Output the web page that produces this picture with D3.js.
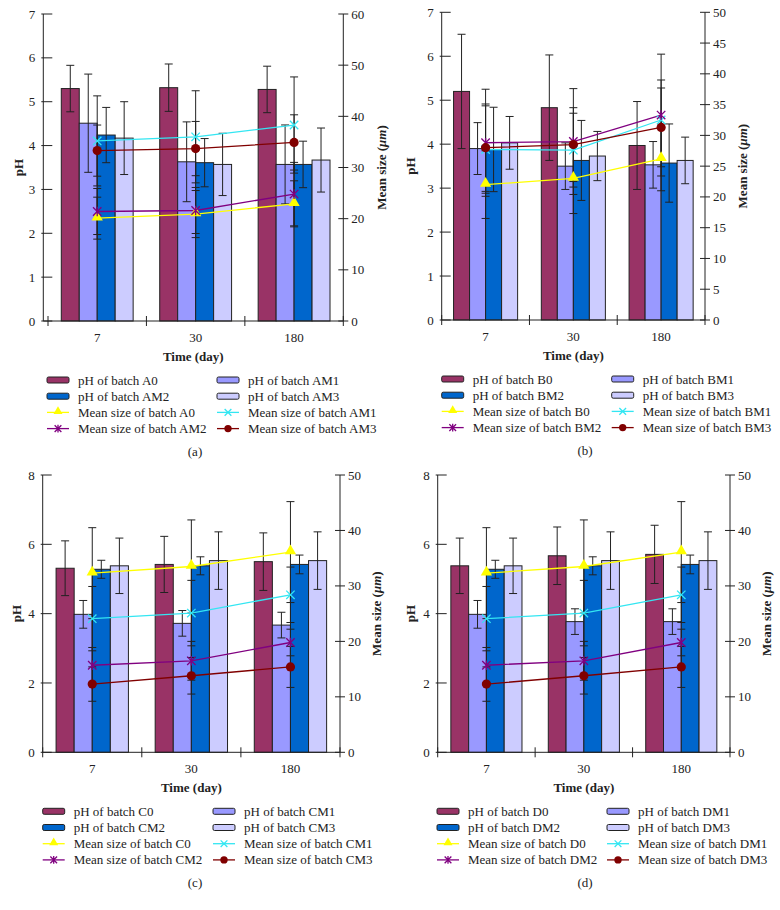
<!DOCTYPE html>
<html lang="en">
<head>
<meta charset="utf-8">
<title>pH and mean size</title>
<script src="https://cdn.jsdelivr.net/npm/d3@7"></script>
<style>
body { margin: 0; background: #fff; }
</style>
</head>
<body>
<div id="chart"></div>
<script>
// categories
var days = ["7", "30", "180"];
var barSuffix = ["0", "M1", "M2", "M3"];

// panel (a)
var phA = [[5.30, 5.32, 5.28], [4.51, 3.63, 3.57], [4.24, 3.61, 3.57], [4.17, 3.57, 3.67]];
var phErrA = [[0.53, 0.54, 0.53], [1.12, 0.91, 0.90], [0.63, 0.55, 0.53], [0.83, 0.71, 0.73]];
var sizeA = [[20.1, 20.9, 22.9], [35.2, 36.0, 38.3], [21.4, 21.6, 24.8], [33.3, 33.7, 34.9]];
var sizeErrA = [[4.1, 4.6, 4.5], [8.8, 9.0, 9.4], [4.5, 4.5, 6.2], [5.0, 5.3, 5.4]];

// panel (b)
var phB = [[5.20, 4.83, 3.97], [3.90, 3.50, 3.53], [3.88, 3.63, 3.57], [4.03, 3.73, 3.63]];
var phErrB = [[1.30, 1.20, 1.00], [0.59, 0.53, 0.53], [0.96, 0.91, 0.89], [0.60, 0.56, 0.53]];
var sizeB = [[22.0, 23.0, 26.2], [27.7, 27.6, 32.5], [28.8, 29.0, 33.3], [28.0, 28.5, 31.3]];
var sizeErrB = [[5.5, 5.7, 5.2], [7.1, 6.0, 6.5], [8.7, 8.6, 9.9], [7.1, 6.0, 6.4]];

// panel (c)
var phC = [[5.31, 5.42, 5.50], [3.98, 3.72, 3.67], [5.28, 5.38, 5.42], [5.38, 5.53, 5.53]];
var phErrC = [[0.79, 0.81, 0.83], [0.40, 0.37, 0.37], [0.26, 0.26, 0.27], [0.80, 0.83, 0.83]];
var sizeC = [[32.3, 33.5, 36.1], [24.1, 25.1, 28.4], [15.7, 16.5, 19.8], [12.3, 13.8, 15.4]];
var sizeErrC = [[8.2, 8.4, 9.1], [5.8, 5.9, 5.0], [3.2, 3.5, 2.4], [3.1, 3.3, 3.7]];

// panel (d)
var phD = [[5.38, 5.67, 5.71], [3.98, 3.77, 3.77], [5.28, 5.38, 5.42], [5.38, 5.53, 5.53]];
var phErrD = [[0.80, 0.83, 0.84], [0.40, 0.37, 0.37], [0.26, 0.26, 0.27], [0.80, 0.83, 0.83]];
var sizeD = [[32.3, 33.5, 36.1], [24.1, 25.1, 28.4], [15.7, 16.5, 19.8], [12.3, 13.8, 15.4]];
var sizeErrD = [[8.2, 8.4, 9.1], [5.8, 5.9, 5.0], [3.2, 3.5, 2.4], [3.1, 3.3, 3.7]];

var barColors = ["#993366", "#9999ff", "#0066cc", "#ccccff"];
var lineColors = ["#ffff00", "#33e6f2", "#800080", "#800000"];
var markerKinds = ["tri", "x", "star", "dot"];

var svg = d3.select("#chart").append("svg")
    .attr("width", 780)
    .attr("height", 910)
    .attr("font-family", "'Liberation Serif', 'Times New Roman', 'DejaVu Serif', serif")
    .style("font-family", "'Liberation Serif', 'Times New Roman', 'DejaVu Serif', serif");

function marker(g, kind, color, s) {
    if (kind == "tri") {
        g.append("path").attr("d", d3.symbol(d3.symbolTriangle, 55 * s * s)())
            .attr("fill", color).attr("transform", "translate(0,-1)");
    } else if (kind == "dot") {
        g.append("circle").attr("r", 4.6 * s).attr("fill", color);
    } else {
        var r = 4.2 * s;
        var d = "M" + (-r) + "," + (-r) + "L" + r + "," + r + "M" + (-r) + "," + r + "L" + r + "," + (-r);
        if (kind == "star") d += "M0," + (-r * 1.15) + "L0," + (r * 1.15);
        g.append("path").attr("d", d).attr("stroke", color).attr("stroke-width", 1.3).attr("fill", "none");
    }
}

function drawPanel(p) {
    var g = svg.append("g");
    var x0 = d3.scaleBand().domain(days).range([p.bandLeft, p.right]);
    var bw = x0.bandwidth();
    var x1 = d3.scaleBand().domain(barSuffix).range([bw * 0.135, bw * 0.865]);
    var y = d3.scaleLinear().domain([0, p.phMax]).range([p.bottom, p.top]);
    var y2 = d3.scaleLinear().domain([0, p.sizeMax]).range([p.bottom, p.top]);

    // bars
    p.ph.forEach(function(vals, i) {
        g.selectAll(null).data(vals).enter().append("rect")
            .attr("x", function(d, j) { return x0(days[j]) + x1(barSuffix[i]); })
            .attr("y", function(d) { return y(d); })
            .attr("width", x1.bandwidth())
            .attr("height", function(d) { return p.bottom - y(d); })
            .attr("fill", barColors[i])
            .attr("stroke", "#222")
            .attr("stroke-width", 1);
    });
    // bar error bars
    p.ph.forEach(function(vals, i) {
        vals.forEach(function(v, j) {
            var cx = x0(days[j]) + x1(barSuffix[i]) + x1.bandwidth() / 2;
            var e = p.phErr[i][j];
            var eg = g.append("g").attr("stroke", "#222").attr("stroke-width", 1);
            eg.append("line").attr("x1", cx).attr("x2", cx).attr("y1", y(v + e)).attr("y2", y(v - e));
            eg.append("line").attr("x1", cx - 4).attr("x2", cx + 4).attr("y1", y(v + e)).attr("y2", y(v + e));
            eg.append("line").attr("x1", cx - 4).attr("x2", cx + 4).attr("y1", y(v - e)).attr("y2", y(v - e));
        });
    });

    // line error bars
    p.size.forEach(function(vals, i) {
        vals.forEach(function(v, j) {
            var cx = x0(days[j]) + bw / 2;
            var e = p.sizeErr[i][j];
            var eg = g.append("g").attr("stroke", "#222").attr("stroke-width", 1);
            eg.append("line").attr("x1", cx).attr("x2", cx).attr("y1", y2(v + e)).attr("y2", y2(v - e));
            eg.append("line").attr("x1", cx - 4).attr("x2", cx + 4).attr("y1", y2(v + e)).attr("y2", y2(v + e));
            eg.append("line").attr("x1", cx - 4).attr("x2", cx + 4).attr("y1", y2(v - e)).attr("y2", y2(v - e));
        });
    });

    // lines + markers
    var line = d3.line()
        .x(function(d, j) { return x0(days[j]) + bw / 2; })
        .y(function(d) { return y2(d); });
    p.size.forEach(function(vals, i) {
        g.append("path").attr("d", line(vals))
            .attr("fill", "none").attr("stroke", lineColors[i]).attr("stroke-width", 1.3);
    });
    p.size.forEach(function(vals, i) {
        vals.forEach(function(v, j) {
            var m = g.append("g").attr("transform", "translate(" + (x0(days[j]) + bw / 2) + "," + y2(v) + ")");
            marker(m, markerKinds[i], lineColors[i], 1);
        });
    });

    // axes
    var ax = g.append("g").attr("stroke", "#222").attr("stroke-width", 1).attr("fill", "none");
    ax.append("line").attr("x1", p.left).attr("x2", p.left).attr("y1", p.top).attr("y2", p.bottom);
    ax.append("line").attr("x1", p.right).attr("x2", p.right).attr("y1", p.top).attr("y2", p.bottom);
    ax.append("line").attr("x1", p.left).attr("x2", p.right).attr("y1", p.bottom).attr("y2", p.bottom);

    y.ticks(p.phMax / p.phStep).forEach(function(t) {
        ax.append("line").attr("x1", p.left - 2).attr("x2", p.left + 9).attr("y1", y(t)).attr("y2", y(t));
        g.append("text").attr("x", p.left - 8).attr("y", y(t)).attr("dy", "0.35em")
            .attr("text-anchor", "end").attr("font-size", 13).attr("fill", "#222").text(t);
    });
    d3.range(0, p.sizeMax + 0.001, p.sizeStep).forEach(function(t) {
        ax.append("line").attr("x1", p.right - 5).attr("x2", p.right + 5).attr("y1", y2(t)).attr("y2", y2(t));
        g.append("text").attr("x", p.right + 8).attr("y", y2(t)).attr("dy", "0.35em")
            .attr("font-size", 13).attr("fill", "#222").text(t);
    });
    days.forEach(function(d) {
        var xs = x0(d);
        ax.append("line").attr("x1", xs).attr("x2", xs).attr("y1", p.bottom - 5).attr("y2", p.bottom + 5);
        g.append("text").attr("x", xs + bw / 2).attr("y", p.bottom + 16).attr("dy", "0.35em")
            .attr("text-anchor", "middle").attr("font-size", 13).attr("fill", "#222").text(d);
    });
    ax.append("line").attr("x1", p.right).attr("x2", p.right).attr("y1", p.bottom - 5).attr("y2", p.bottom + 5);

    // titles
    g.append("text").attr("transform", "translate(" + p.phLabelX + "," + ((p.top + p.bottom) / 2) + ") rotate(-90)")
        .attr("text-anchor", "middle").attr("dy", "0.35em").attr("fill", "#222")
        .attr("font-size", 13).attr("font-weight", "bold").text("pH");
    var t2 = g.append("text").attr("transform", "translate(" + p.sizeLabelX + "," + ((p.top + p.bottom) / 2) + ") rotate(-90)")
        .attr("text-anchor", "middle").attr("dy", "0.35em").attr("fill", "#222")
        .attr("font-size", 13).attr("font-weight", "bold");
    t2.append("tspan").text("Mean size (");
    t2.append("tspan").attr("font-style", "italic").text("\u03bcm");
    t2.append("tspan").text(")");
    g.append("text").attr("x", (p.left + p.right) / 2).attr("y", p.bottom + 35).attr("dy", "0.35em").attr("fill", "#222")
        .attr("text-anchor", "middle").attr("font-size", 13).attr("font-weight", "bold").text("Time (day)");

    // legend
    var items = [];
    barSuffix.forEach(function(s, i) { items.push({ label: "pH of batch " + p.letter + s, kind: "bar", i: i }); });
    barSuffix.forEach(function(s, i) { items.push({ label: "Mean size of batch " + p.letter + s, kind: "line", i: i }); });
    items.forEach(function(it, k) {
        var col = k % 2, row = Math.floor(k / 2);
        var lx = p.legX[col], ly = p.bottom + 59 + row * 16.2;
        if (it.kind == "bar") {
            g.append("rect").attr("x", lx).attr("y", ly - 3).attr("width", 22).attr("height", 6).attr("rx", 1.5)
                .attr("fill", barColors[it.i]).attr("stroke", "#222").attr("stroke-width", 1);
        } else {
            g.append("line").attr("x1", lx).attr("x2", lx + 22).attr("y1", ly).attr("y2", ly)
                .attr("stroke", lineColors[it.i]).attr("stroke-width", 1.3);
            var m = g.append("g").attr("transform", "translate(" + (lx + 11) + "," + ly + ")");
            marker(m, markerKinds[it.i], lineColors[it.i], 0.8);
        }
        g.append("text").attr("x", lx + 31).attr("y", ly).attr("dy", "0.35em").attr("fill", "#222")
            .attr("font-size", 13).text(it.label);
    });
    g.append("text").attr("x", p.capX).attr("y", p.bottom + 130).attr("dy", "0.35em").attr("fill", "#222")
        .attr("text-anchor", "middle").attr("font-size", 13).text("(" + p.letter.toLowerCase() + ")");
}

drawPanel({ letter: "A", ph: phA, phErr: phErrA, size: sizeA, sizeErr: sizeErrA,
    left: 43.3, bandLeft: 48, right: 343.3, top: 14, bottom: 321,
    phMax: 7, phStep: 1, sizeMax: 60, sizeStep: 10,
    phLabelX: 18, sizeLabelX: 381.5, legX: [47, 217], capX: 195 });
drawPanel({ letter: "B", ph: phB, phErr: phErrB, size: sizeB, sizeErr: sizeErrB,
    left: 441.7, bandLeft: 441.7, right: 705, top: 12.3, bottom: 320,
    phMax: 7, phStep: 1, sizeMax: 50, sizeStep: 5,
    phLabelX: 410.7, sizeLabelX: 742.7, legX: [441.7, 611.7], capX: 585 });
drawPanel({ letter: "C", ph: phC, phErr: phErrC, size: sizeC, sizeErr: sizeErrC,
    left: 42.7, bandLeft: 42.7, right: 340, top: 475, bottom: 752.3,
    phMax: 8, phStep: 2, sizeMax: 50, sizeStep: 10,
    phLabelX: 16, sizeLabelX: 376.7, legX: [42.7, 213], capX: 195 });
drawPanel({ letter: "D", ph: phD, phErr: phErrD, size: sizeD, sizeErr: sizeErrD,
    left: 437.7, bandLeft: 437.7, right: 730, top: 475, bottom: 752.3,
    phMax: 8, phStep: 2, sizeMax: 50, sizeStep: 10,
    phLabelX: 410.7, sizeLabelX: 766.7, legX: [437, 607], capX: 585 });
</script>
</body>
</html>
